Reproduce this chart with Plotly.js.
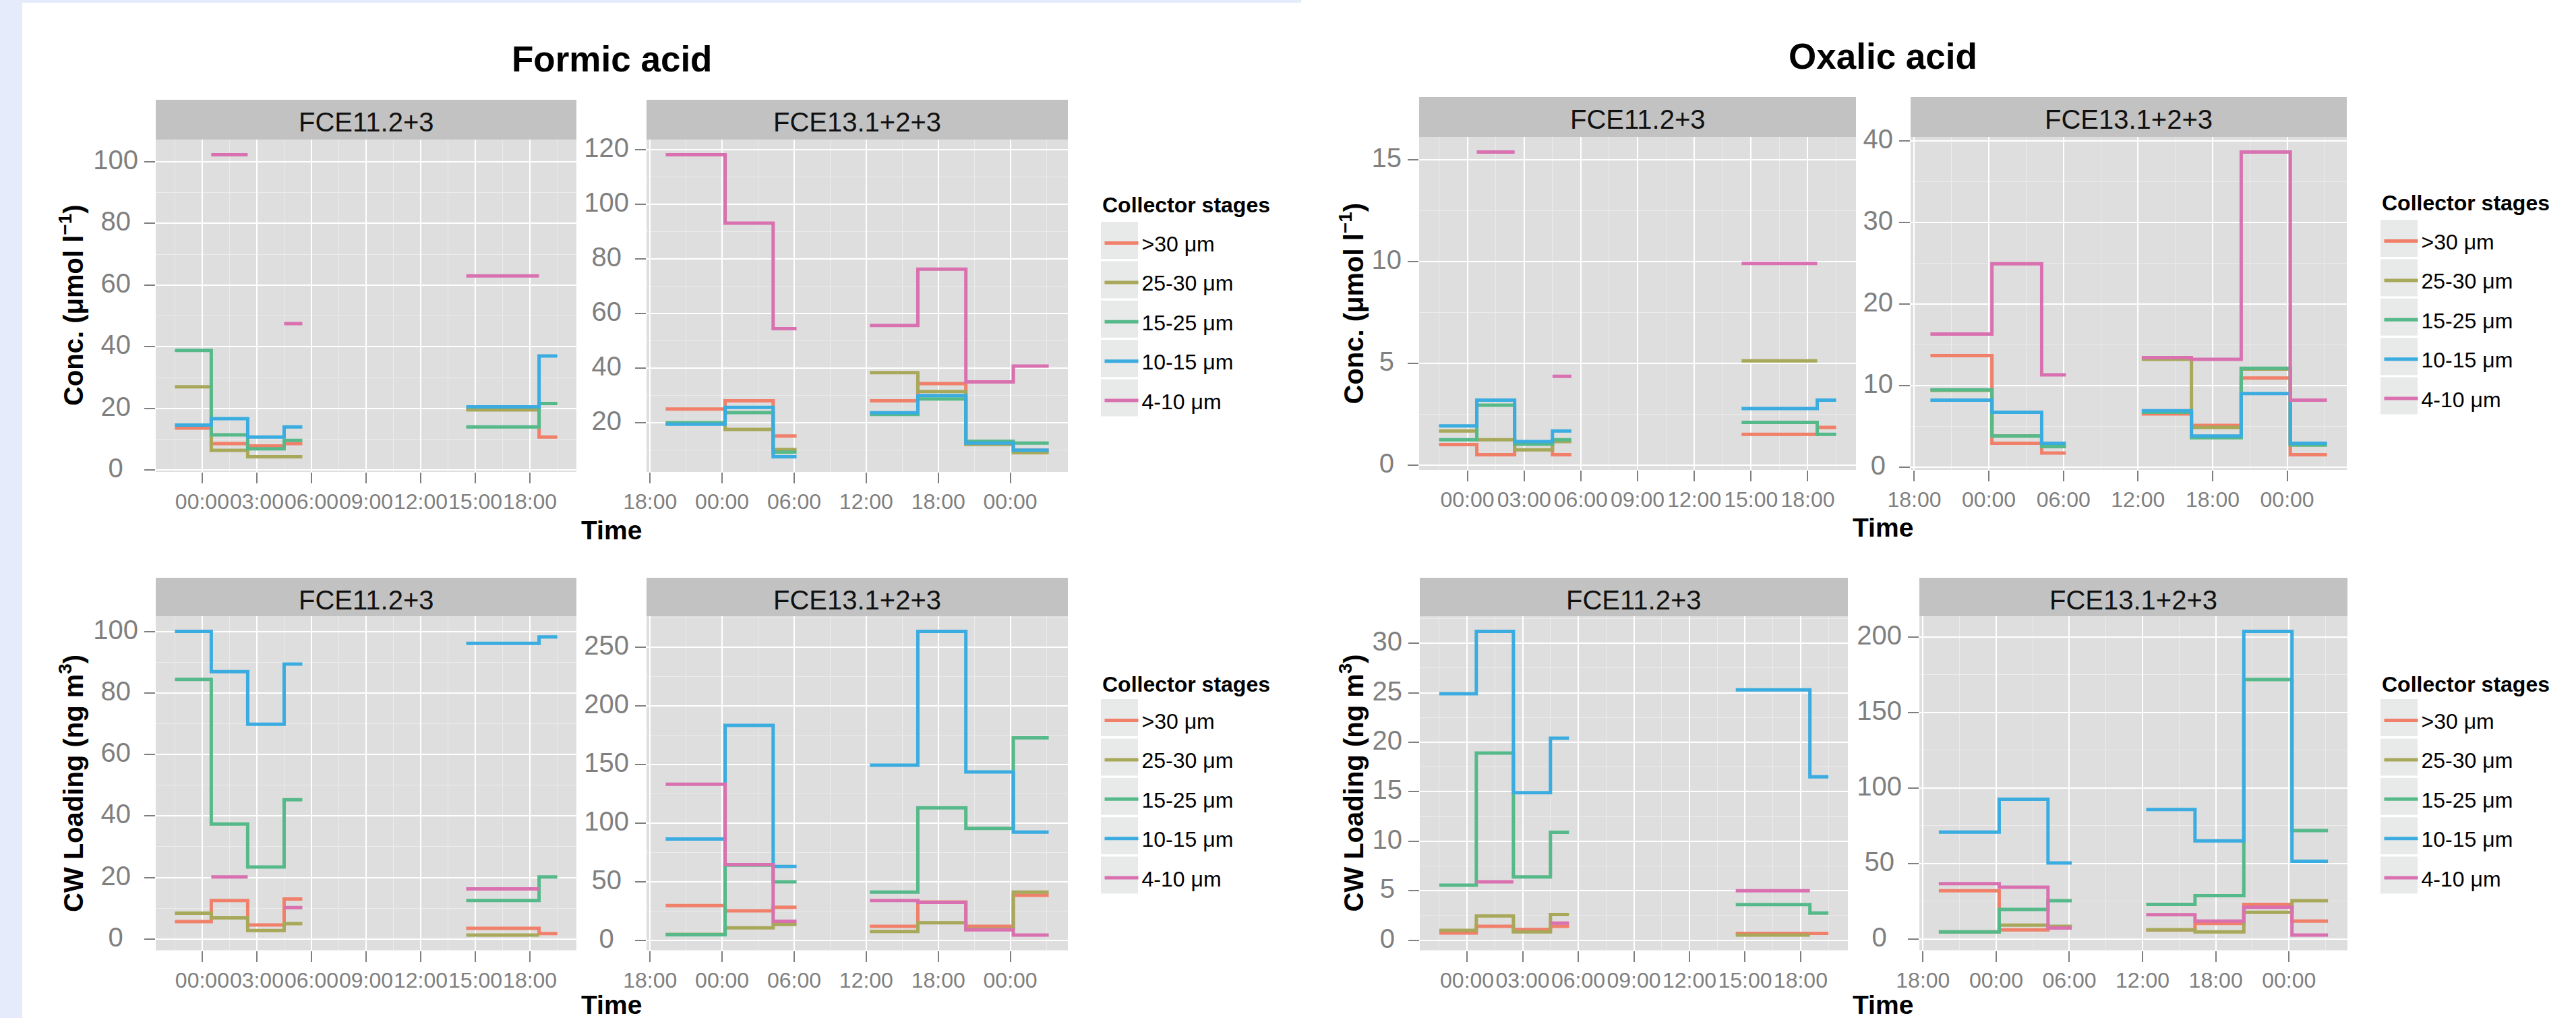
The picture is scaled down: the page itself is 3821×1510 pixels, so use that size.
<!DOCTYPE html>
<html><head><meta charset="utf-8">
<script src="https://cdn.plot.ly/plotly-3.0.1.min.js"></script>
<style>html,body{margin:0;padding:0;background:#fff;overflow:hidden}#chart{width:3821px;height:1510px}</style>
</head><body><div id="chart"></div>
<script>
// ---------------- DATA ----------------
const stages = ['>30 μm', '25-30 μm', '15-25 μm', '10-15 μm', '4-10 μm'];
const stageColors = ['#F0806A', '#A8A85A', '#55B98A', '#3AACE0', '#D970B0'];

// sampling intervals, hours after 00:00 of the (first) day
const fce11Start = [-1.5, 0.5, 2.5, 4.5, 14.5, 18.5];
const fce11End   = [ 0.5, 2.5, 4.5, 5.5, 18.5, 19.5];
const fce13Start = [19.3, 24.25, 28.25, 36.3, 40.3, 44.3, 48.25];
const fce13End   = [24.25, 28.25, 30.2, 40.3, 44.3, 48.25, 51.2];

const fce11TickVals = [0, 3, 6, 9, 12, 15, 18];
const fce11TickText = ['00:00', '03:00', '06:00', '09:00', '12:00', '15:00', '18:00'];
const fce11MinorVals = [-1.5, 1.5, 4.5, 7.5, 10.5, 13.5, 16.5, 19.5];
const fce13TickVals = [18, 24, 30, 36, 42, 48];
const fce13TickText = ['18:00', '00:00', '06:00', '12:00', '18:00', '00:00'];
const fce13MinorVals = [21, 27, 33, 39, 45, 51];

// rows = stages (>30, 25-30, 15-25, 10-15, 4-10), columns = sampling intervals
const formicConc11 = [
  [13.6, 8.6, 7.8, 8.6, 19.8, 10.7],
  [27.0, 6.4, 4.3, 4.3, 19.5, null],
  [38.8, 11.4, 6.9, 9.6, 14.0, 21.6],
  [14.6, 16.7, 10.7, 14.0, 20.5, 37.0],
  [null, 102.3, null, 47.5, 63.0, null]
];
const formicConc13 = [
  [25.1, 28.1, 15.2, 28.1, 34.4, 12.5, 10.0],
  [19.8, 17.6, 10.3, 38.4, 31.5, 12.1, 9.1],
  [20.1, 23.8, 9.3, 23.1, 28.8, 13.3, 12.6],
  [19.5, 25.7, 7.6, 23.7, 30.0, 12.6, 10.0],
  [118.2, 93.1, 54.5, 55.7, 76.3, 35.0, 40.8]
];
const formicLoad11 = [
  [5.7, 12.5, 4.6, 13.0, 3.5, 1.8],
  [8.4, 6.9, 2.8, 5.0, 1.3, null],
  [84.4, 37.4, 23.4, 45.3, 12.5, 20.2],
  [100.0, 86.9, 69.8, 89.4, 96.1, 98.2],
  [null, 20.2, null, 10.2, 16.3, null]
];
const formicLoad13 = [
  [29.5, 25.1, 28.1, 11.8, 32.5, 11.8, 38.3],
  [5.0, 10.5, 13.5, 7.4, 14.9, 9.6, 41.0],
  [4.7, 64.0, 49.8, 41.0, 112.9, 95.3, 172.4],
  [86.2, 183.1, 62.8, 149.2, 263.2, 143.4, 92.2],
  [133.0, 64.4, 16.2, 33.9, 32.2, 8.8, 4.4]
];
const oxalicConc11 = [
  [1.01, 0.51, 1.05, 0.51, 1.51, 1.85],
  [1.68, 1.25, 0.75, 1.16, 5.12, null],
  [1.25, 2.94, 1.03, 1.25, 2.10, 1.51],
  [1.93, 3.19, 1.16, 1.68, 2.78, 3.19],
  [null, 15.37, null, 4.36, 9.90, null]
];
const oxalicConc13 = [
  [13.65, 2.9, 1.7, 6.5, 5.1, 10.9, 1.5],
  [9.4, 3.8, 2.5, 13.2, 4.85, 12.0, 2.7],
  [9.45, 3.8, 2.5, 6.7, 3.6, 12.1, 2.7],
  [8.2, 6.7, 2.9, 6.9, 3.8, 9.0, 2.9],
  [16.3, 24.9, 11.3, 13.4, 13.2, 38.6, 8.2]
];
const oxalicLoad11 = [
  [0.72, 1.40, 1.08, 1.40, 0.69, 0.69],
  [1.00, 2.45, 0.85, 2.60, 0.52, null],
  [5.56, 18.9, 6.4, 10.9, 3.6, 2.75],
  [24.9, 31.2, 14.9, 20.4, 25.3, 16.5],
  [null, 5.9, null, 1.73, 5.0, null]
];
const oxalicLoad13 = [
  [31.9, 6.0, 7.9, 6.0, 10.3, 22.9, 11.8],
  [4.7, 9.2, 8.4, 6.0, 4.7, 17.6, 25.3],
  [4.7, 19.5, 25.3, 22.9, 28.7, 171.7, 71.7],
  [70.7, 92.5, 50.3, 85.7, 64.9, 203.6, 51.4],
  [36.6, 34.3, 7.3, 16.1, 11.8, 21.0, 2.6]
];

// ---------------- LAYOUT HELPERS ----------------
const W = 3821, H = 1510;
const px = v => v / W;
const py = v => 1 - v / H;
const FONT = 'Liberation Sans, Arial, Helvetica, sans-serif';
const GREY = '#7F7F7F';
const NBSP = '\u00A0';

const fce11 = {start: fce11Start, end: fce11End, tv: fce11TickVals, tt: fce11TickText, mv: fce11MinorVals, label: 'FCE11.2+3'};
const fce13 = {start: fce13Start, end: fce13End, tv: fce13TickVals, tt: fce13TickText, mv: fce13MinorVals, label: 'FCE13.1+2+3'};

const panels = [
  {data: formicConc11, ev: fce11, box: [231, 855, 207, 700], stripTop: 148, dtick: 20, legend: 'legend', show: false},
  {data: formicConc13, ev: fce13, box: [959, 1584, 207, 700], stripTop: 148, dtick: 20, legend: 'legend', show: true},
  {data: formicLoad11, ev: fce11, box: [231, 855, 914, 1409.5], stripTop: 857, dtick: 20, legend: 'legend2', show: false},
  {data: formicLoad13, ev: fce13, box: [959, 1584, 914, 1409.5], stripTop: 857, dtick: 50, legend: 'legend2', show: true},
  {data: oxalicConc11, ev: fce11, box: [2105, 2753, 203, 697], stripTop: 144, dtick: 5, legend: 'legend3', show: false},
  {data: oxalicConc13, ev: fce13, box: [2834, 3481, 203, 697], stripTop: 144, dtick: 10, legend: 'legend3', show: true},
  {data: oxalicLoad11, ev: fce11, box: [2106, 2741, 914, 1409.5], stripTop: 857, dtick: 5, legend: 'legend4', show: false},
  {data: oxalicLoad13, ev: fce13, box: [2847, 3482, 914, 1409.5], stripTop: 857, dtick: 50, legend: 'legend4', show: true}
];

function stepXY(starts, ends, vals) {
  const x = [], y = [];
  let open = false, prevEnd = null;
  for (let i = 0; i < vals.length; i++) {
    const v = vals[i];
    if (v == null) { if (open) { x.push(null); y.push(null); open = false; } continue; }
    if (open && Math.abs(prevEnd - starts[i]) > 1e-9) { x.push(null); y.push(null); open = false; }
    x.push(starts[i]); y.push(v);
    x.push(ends[i]); y.push(v);
    open = true; prevEnd = ends[i];
  }
  return {x, y};
}
function expandRange(vals) {
  const v = vals.filter(a => a != null);
  const lo = Math.min(...v), hi = Math.max(...v), e = (hi - lo) * 0.05;
  return [lo - e, hi + e];
}
function stepsIn(range, d) {
  const out = [];
  for (let k = Math.ceil(range[0] / d); k * d <= range[1] + 1e-9; k++) out.push(+(k * d).toFixed(6));
  return out;
}
// centre-justified tick labels (padding with half-digit-wide no-break spaces)
function centredLabels(vals) {
  const s = vals.map(v => String(v));
  const m = Math.max(...s.map(t => t.length));
  return s.map(t => NBSP.repeat(m - t.length) + t + NBSP.repeat(m - t.length));
}

const traces = [];
const layout = {
  width: W, height: H, margin: {l: 0, r: 0, t: 0, b: 0},
  paper_bgcolor: '#FFFFFF', plot_bgcolor: '#DEDEDE',
  font: {family: FONT, color: '#000000'},
  shapes: [], annotations: []
};

panels.forEach((p, i) => {
  const n = i + 1, sx = n === 1 ? '' : String(n);
  const [l, r, t, b] = p.box;
  p.data.forEach((vals, s) => {
    const st = stepXY(p.ev.start, p.ev.end, vals);
    traces.push({
      type: 'scatter', mode: 'lines', x: st.x, y: st.y,
      xaxis: 'x' + sx, yaxis: 'y' + sx, name: stages[s],
      line: {color: stageColors[s], width: 5},
      connectgaps: false, hoverinfo: 'skip',
      legend: p.legend, legendgroup: p.legend + '_' + s, showlegend: p.show
    });
  });
  const yr = expandRange(p.data.flat());
  const yTicks = stepsIn(yr, p.dtick);
  const yMinor = stepsIn(yr, p.dtick / 2);
  layout['xaxis' + sx] = {
    domain: [px(l), px(r)], anchor: 'y' + sx, range: expandRange(p.ev.start.concat(p.ev.end)), type: 'linear',
    tickmode: 'array', tickvals: p.ev.tv, ticktext: p.ev.tt, tickangle: 0,
    ticks: 'outside', ticklen: 16, tickwidth: 2, tickcolor: GREY,
    tickfont: {size: 32, color: GREY, family: FONT}, ticklabelstandoff: 0,
    showline: false, zeroline: false, showgrid: true, gridcolor: '#FFFFFF', gridwidth: 2,
    minor: {tickmode: 'array', tickvals: p.ev.mv, showgrid: true, gridcolor: '#EBEBEB', gridwidth: 1, ticks: ''},
    automargin: false, fixedrange: true
  };
  layout['yaxis' + sx] = {
    domain: [py(b), py(t)], anchor: 'x' + sx, range: yr,
    tickmode: 'array', tickvals: yTicks, ticktext: centredLabels(yTicks),
    ticks: 'outside', ticklen: 16, tickwidth: 2, tickcolor: GREY,
    tickfont: {size: 40, color: GREY, family: FONT}, ticklabelstandoff: 1, ticklabelshift: -3,
    showline: false, zeroline: false, showgrid: true, gridcolor: '#FFFFFF', gridwidth: 2,
    minor: {tickmode: 'array', tickvals: yMinor, showgrid: true, gridcolor: '#EBEBEB', gridwidth: 1, ticks: ''},
    automargin: false, fixedrange: true
  };
  // facet strip
  layout.shapes.push({type: 'rect', xref: 'paper', yref: 'paper', x0: px(l), x1: px(r), y0: py(t), y1: py(p.stripTop),
    fillcolor: '#C2C2C2', line: {width: 0}});
  layout.annotations.push({xref: 'paper', yref: 'paper', x: px((l + r) / 2), y: py((p.stripTop + t) / 2 + 4),
    text: p.ev.label, showarrow: false, xanchor: 'center', yanchor: 'middle',
    font: {size: 40, color: '#111111', family: FONT}});
});

// page frame (light blue) from the screenshot
layout.shapes.push({type: 'rect', xref: 'paper', yref: 'paper', x0: 0, x1: px(33), y0: 0, y1: 1, fillcolor: '#E5EBFA', line: {width: 0}});
layout.shapes.push({type: 'rect', xref: 'paper', yref: 'paper', x0: 0, x1: px(1930), y0: py(4), y1: 1, fillcolor: '#E5EBFA', line: {width: 0}});

function ann(text, x, y, size, extra) {
  layout.annotations.push(Object.assign({xref: 'paper', yref: 'paper', x: px(x), y: py(y), text: text, showarrow: false,
    xanchor: 'center', yanchor: 'middle', font: {size: size, color: '#000000', family: FONT}}, extra || {}));
}
ann('<b>Formic acid</b>', 907, 87, 53);
ann('<b>Oxalic acid</b>', 2793, 83, 53);
ann('<b>Time</b>', 907, 786, 39);
ann('<b>Time</b>', 907, 1490, 39, {height: 34, valign: 'middle'});
ann('<b>Time</b>', 2793, 782, 39);
ann('<b>Time</b>', 2793, 1490, 39, {height: 34, valign: 'middle'});
ann('<b>Conc. (μmol l<sup>−1</sup>)</b>', 106, 453, 40, {textangle: -90});
ann('<b>CW Loading (ng m<sup>3</sup>)</b>', 106, 1162, 40, {textangle: -90});
ann('<b>Conc. (μmol l<sup>−1</sup>)</b>', 2005.5, 450, 40, {textangle: -90});
ann('<b>CW Loading (ng m<sup>3</sup>)</b>', 2005.5, 1162, 40, {textangle: -90});

// legends (one per facet row); item positions are aligned to the key boxes after drawing
const legendSpots = [
  {id: 'legend', left: 1633, titleY: 303.5, keyTop: 329},
  {id: 'legend2', left: 1633, titleY: 1015, keyTop: 1037},
  {id: 'legend3', left: 3531, titleY: 300.5, keyTop: 326},
  {id: 'legend4', left: 3531, titleY: 1015, keyTop: 1037}
];
const KEY = 55, PITCH = 58.4, LINE_DX = 3, LINE_DY = 4;
legendSpots.forEach(L => {
  layout[L.id] = {
    x: px(L.left + 1), y: py(L.keyTop + KEY / 2 - 21), xanchor: 'left', yanchor: 'top',
    bgcolor: 'rgba(0,0,0,0)', borderwidth: 0, itemwidth: 50, tracegroupgap: PITCH - 44.6,
    font: {size: 32, color: '#000000', family: FONT},
    itemclick: false, itemdoubleclick: false
  };
  ann('<b>Collector stages</b>', L.left, L.titleY, 32, {xanchor: 'left'});
  for (let k = 0; k < stages.length; k++) {
    const top = L.keyTop + k * PITCH;
    layout.shapes.push({type: 'rect', xref: 'paper', yref: 'paper', x0: px(L.left), x1: px(L.left + KEY),
      y0: py(top + KEY), y1: py(top), fillcolor: '#E8E9E9', line: {width: 0}, layer: 'below'});
  }
});

function alignLegends(gd) {
  const upd = {};
  try {
    legendSpots.forEach(L => {
      const g = gd.querySelector('g.' + L.id);
      if (!g) return;
      const items = g.querySelectorAll('g.traces');
      if (items.length < 2) return;
      const pick = it => it.querySelector('path.js-line') || it.querySelector('path');
      const l0 = pick(items[0]), l1 = pick(items[1]);
      if (!l0 || !l1) return;
      const b0 = l0.getBoundingClientRect(), b1 = l1.getBoundingClientRect();
      const cx = (b0.left + b0.right) / 2, cy = (b0.top + b0.bottom) / 2;
      const cy1 = (b1.top + b1.bottom) / 2;
      const cur = gd._fullLayout[L.id];
      upd[L.id + '.x'] = cur.x + (L.left + KEY / 2 + LINE_DX - cx) / W;
      upd[L.id + '.y'] = cur.y - (L.keyTop + KEY / 2 + LINE_DY - cy) / H;
      upd[L.id + '.tracegroupgap'] = Math.max(0, cur.tracegroupgap + (PITCH - (cy1 - cy)));
    });
  } catch (e) { /* keep default legend placement */ }
  if (Object.keys(upd).length) return Plotly.relayout(gd, upd);
}

Plotly.newPlot('chart', traces, layout, {staticPlot: true, displayModeBar: false}).then(alignLegends);
</script></body></html>
